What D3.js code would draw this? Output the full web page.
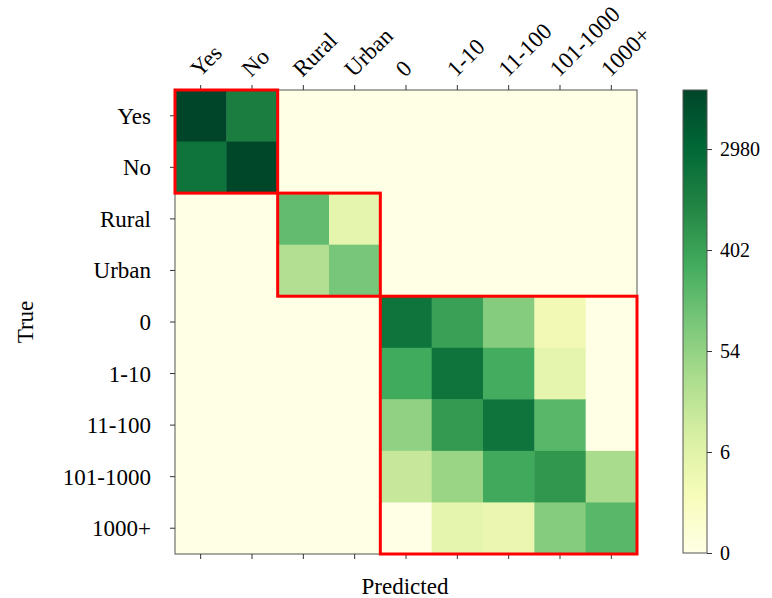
<!DOCTYPE html>
<html>
<head>
<meta charset="utf-8">
<script src="https://cdn.jsdelivr.net/npm/d3@7"></script>
<style>
  html, body { margin: 0; padding: 0; background: #fff; }
  svg { display: block; font-family: "Liberation Serif", "DejaVu Serif", serif; }
</style>
</head>
<body>
<svg id="chart" width="772" height="598"></svg>
<script>
// ---- data ----
const labels = ["Yes", "No", "Rural", "Urban", "0", "1-10", "11-100", "101-1000", "1000+"];
// rows = True, columns = Predicted
const rowYes      = [9600, 1280, 0, 0, 0, 0, 0, 0, 0];
const rowNo       = [1840, 8900, 0, 0, 0, 0, 0, 0, 0];
const rowRural    = [0, 0, 154, 5, 0, 0, 0, 0, 0];
const rowUrban    = [0, 0, 26, 97, 0, 0, 0, 0, 0];
const row0        = [0, 0, 0, 0, 1840, 424, 73, 3, 0];
const row1_10     = [0, 0, 0, 0, 308, 1840, 295, 5, 0];
const row11_100   = [0, 0, 0, 0, 56, 510, 1840, 186, 0];
const row101_1000 = [0, 0, 0, 0, 15, 46, 323, 560, 32];
const row1000p    = [0, 0, 0, 0, 0, 5, 4, 73, 186];
const groups = [[0, 2], [2, 4], [4, 9]];
const cbTickPos = [0, 2, 4, 6, 8];          // log(1+x) positions
const cbTickLabels = ["0", "6", "54", "402", "2980"];
const ylgn = ["#ffffe5", "#f7fcb9", "#d9f0a3", "#addd8e", "#78c679", "#41ab5d", "#238443", "#006837", "#004529"];

const matrix = [rowYes, rowNo, rowRural, rowUrban, row0, row1_10, row11_100, row101_1000, row1000p];

// ---- layout ----
const svg = d3.select("#chart");
const L = 175, T = 90, W = 462, H = 464;
const x = d3.scaleBand().domain(d3.range(labels.length)).range([L, L + W]).paddingInner(0).paddingOuter(0);
const y = d3.scaleBand().domain(d3.range(labels.length)).range([T, T + H]).paddingInner(0).paddingOuter(0);

const vmax = Math.log1p(d3.max(matrix.flat()));
const color = d3.scaleLinear()
  .domain(ylgn.map((_, i) => vmax * i / (ylgn.length - 1)))
  .range(ylgn)
  .interpolate(d3.interpolateRgb)
  .clamp(true);

const cells = [];
matrix.forEach((row, i) => row.forEach((v, j) => cells.push({i, j, v})));

svg.append("g").selectAll("rect").data(cells).join("rect")
  .attr("x", d => x(d.j))
  .attr("y", d => y(d.i))
  .attr("width", x.bandwidth() + 0.5)
  .attr("height", y.bandwidth() + 0.5)
  .attr("fill", d => color(Math.log1p(d.v)));

// frame
svg.append("rect").attr("x", L).attr("y", T).attr("width", W).attr("height", H)
  .attr("fill", "none").attr("stroke", "#555").attr("stroke-width", 1);

const fontSize = 23;
// ticks
const tickLen = 5;
const tg = svg.append("g").attr("stroke", "#333").attr("stroke-width", 1);
labels.forEach((lab, k) => {
  const cx = x(k) + x.bandwidth() / 2;
  const cy = y(k) + y.bandwidth() / 2;
  tg.append("line").attr("x1", cx).attr("x2", cx).attr("y1", T).attr("y2", T - tickLen);
  tg.append("line").attr("x1", cx).attr("x2", cx).attr("y1", T + H).attr("y2", T + H + tickLen);
  tg.append("line").attr("x1", L).attr("x2", L - tickLen).attr("y1", cy).attr("y2", cy);
});

// top labels (rotated)
svg.append("g").selectAll("text").data(labels).join("text")
  .attr("transform", (d, k) => `translate(${x(k) + x.bandwidth() / 2 - 1},${T - 12}) rotate(-45)`)
  .attr("font-size", fontSize)
  .attr("fill", "#000")
  .text(d => d);

// left labels
svg.append("g").selectAll("text").data(labels).join("text")
  .attr("x", L - 24)
  .attr("y", (d, k) => y(k) + y.bandwidth() / 2)
  .attr("dy", "0.35em")
  .attr("text-anchor", "end")
  .attr("font-size", fontSize)
  .attr("fill", "#000")
  .text(d => d);

// axis titles
svg.append("text").attr("x", L + W / 2 - 1).attr("y", 594)
  .attr("text-anchor", "middle").attr("font-size", fontSize).attr("fill", "#000").text("Predicted");
svg.append("text").attr("transform", `translate(33,${T + H / 2}) rotate(-90)`)
  .attr("text-anchor", "middle").attr("font-size", fontSize).attr("fill", "#000").text("True");

// group boxes
svg.append("g").selectAll("rect").data(groups).join("rect")
  .attr("x", d => x(d[0]))
  .attr("y", d => y(d[0]))
  .attr("width", d => x(d[1] - 1) + x.bandwidth() - x(d[0]))
  .attr("height", d => y(d[1] - 1) + y.bandwidth() - y(d[0]))
  .attr("fill", "none")
  .attr("stroke", "#ff0000")
  .attr("stroke-width", 3);

// ---- colorbar ----
const CBX = 683, CBW = 24, CBT = 90, CBB = 553;
const cbScale = d3.scaleLinear().domain([0, vmax]).range([CBB, CBT]);
const defs = svg.append("defs");
const grad = defs.append("linearGradient").attr("id", "cbgrad")
  .attr("x1", 0).attr("y1", 1).attr("x2", 0).attr("y2", 0);
d3.range(0, 1.0001, 0.02).forEach(t => {
  grad.append("stop").attr("offset", t).attr("stop-color", color(t * vmax));
});
svg.append("rect").attr("x", CBX).attr("y", CBT).attr("width", CBW).attr("height", CBB - CBT)
  .attr("fill", "url(#cbgrad)").attr("stroke", "#555").attr("stroke-width", 1);

const cbAxis = d3.axisRight(cbScale)
  .tickValues(cbTickPos)
  .tickFormat((d, i) => cbTickLabels[i])
  .tickSize(5)
  .tickPadding(8);
const cbG = svg.append("g").attr("transform", `translate(${CBX + CBW},0)`).call(cbAxis);
cbG.select(".domain").remove();
cbG.selectAll("line").attr("stroke", "#333");
cbG.selectAll("text").attr("font-size", 20).attr("font-family", "Liberation Serif, serif").attr("fill", "#000");
</script>
</body>
</html>
